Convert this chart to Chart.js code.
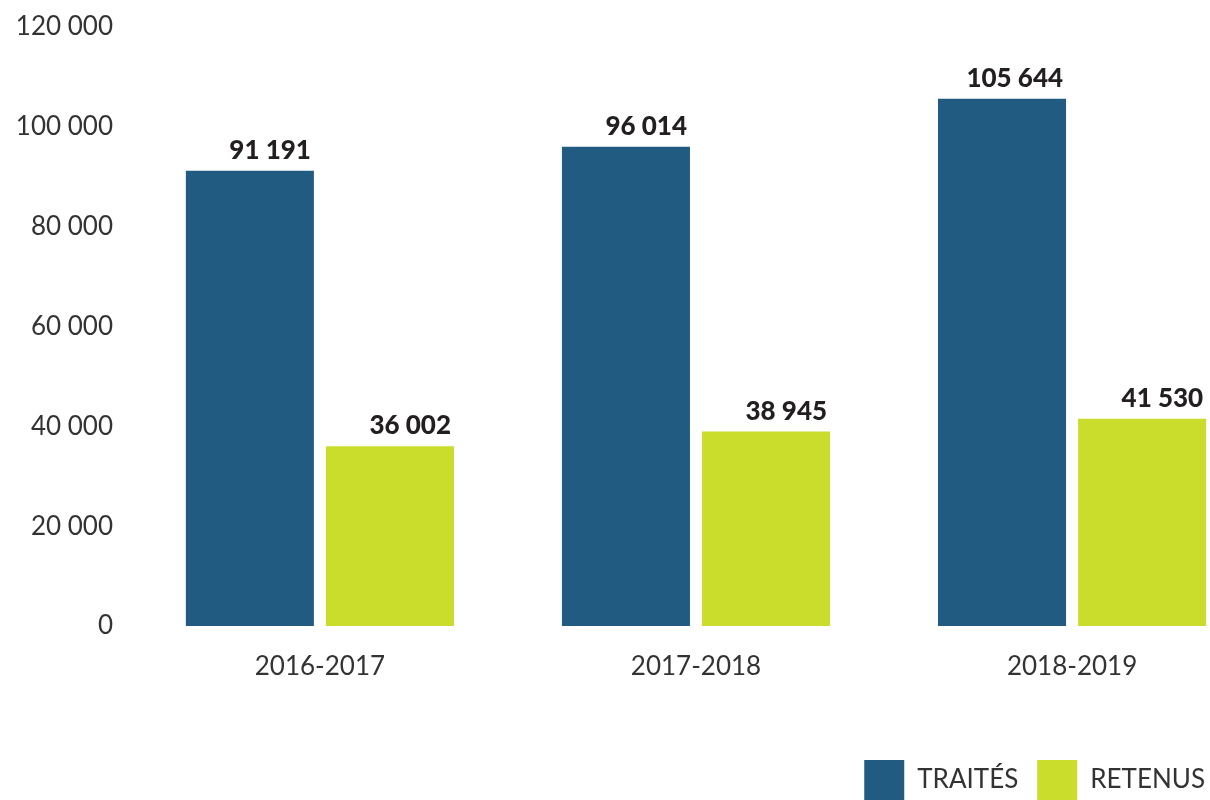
<!DOCTYPE html>
<html>
<head>
<meta charset="utf-8">
<script src="https://cdn.jsdelivr.net/npm/chart.js@4/dist/chart.umd.min.js"></script>
<style>
  html, body { margin: 0; padding: 0; background: #ffffff; overflow: hidden; }
  #wrap { position: relative; width: 1224px; height: 810px; }
</style>
</head>
<body>
<div id="wrap"><canvas id="c"></canvas></div>
<script>
const categories = ['2016-2017', '2017-2018', '2018-2019'];
const seriesNames = ['TRAITÉS', 'RETENUS'];
const traites = [91191, 96014, 105644];
const retenus = [36002, 38945, 41530];
const yTickValues = [0, 20000, 40000, 60000, 80000, 100000, 120000];

const BLUE = '#215b82';
const GREEN = '#cadc2c';
const TEXT = '#333333';
const FONT = 'Lato, "Open Sans", sans-serif';

function fmt(v) {
  return String(Math.round(v)).replace(/\B(?=(\d{3})+(?!\d))/g, ' ');
}

const labelPlugin = {
  id: 'barLabels',
  afterDatasetsDraw(chart) {
    const ctx = chart.ctx;
    ctx.save();
    ctx.font = '900 26px ' + FONT;
    ctx.fillStyle = '#231f20';
    ctx.textAlign = 'right';
    ctx.textBaseline = 'alphabetic';
    chart.data.datasets.forEach((ds, di) => {
      const meta = chart.getDatasetMeta(di);
      meta.data.forEach((bar, i) => {
        const val = ds.data[i].y;
        ctx.fillText(fmt(val), bar.x + bar.width / 2 - 3, bar.y - 12);
      });
    });
    ctx.restore();
  }
};

new Chart(document.getElementById('c'), {
  type: 'bar',
  data: {
    datasets: [
      { label: seriesNames[0], data: traites.map((v, i) => ({ x: i, y: v })), backgroundColor: BLUE },
      { label: seriesNames[1], data: retenus.map((v, i) => ({ x: i, y: v })), backgroundColor: GREEN }
    ]
  },
  options: {
    responsive: true,
    maintainAspectRatio: false,
    animation: false,
    categoryPercentage: 0.745,
    barPercentage: 0.914,
    layout: { padding: { top: 27, left: 0, right: 0, bottom: 0 } },
    plugins: {
      tooltip: { enabled: false },
      legend: {
        position: 'bottom',
        align: 'end',
        labels: {
          boxWidth: 40,
          boxHeight: 40,
          padding: 19,
          color: TEXT,
          font: { family: FONT, size: 26 }
        }
      }
    },
    scales: {
      x: {
        type: 'linear',
        offset: false,
        min: -0.505,
        max: 2.404,
        grid: { display: false, drawTicks: false, offset: false },
        border: { display: false },
        afterBuildTicks(scale) { scale.ticks = categories.map((_, i) => ({ value: i })); },
        afterFit(scale) { scale.height = 115; },
        ticks: {
          color: TEXT,
          padding: 25,
          maxRotation: 0,
          font: { family: FONT, size: 26 },
          callback: (v) => categories[v]
        }
      },
      y: {
        min: 0,
        max: 120000,
        grid: { display: false, drawTicks: false },
        border: { display: false },
        afterBuildTicks(scale) { scale.ticks = yTickValues.map(v => ({ value: v })); },
        afterFit(scale) { scale.width = 130; scale.paddingTop = 0; scale.paddingBottom = 0; },
        ticks: {
          color: TEXT,
          padding: 17,
          font: { family: FONT, size: 26 },
          callback: (v) => fmt(v)
        }
      }
    }
  },
  plugins: [labelPlugin]
});
</script>
</body>
</html>
